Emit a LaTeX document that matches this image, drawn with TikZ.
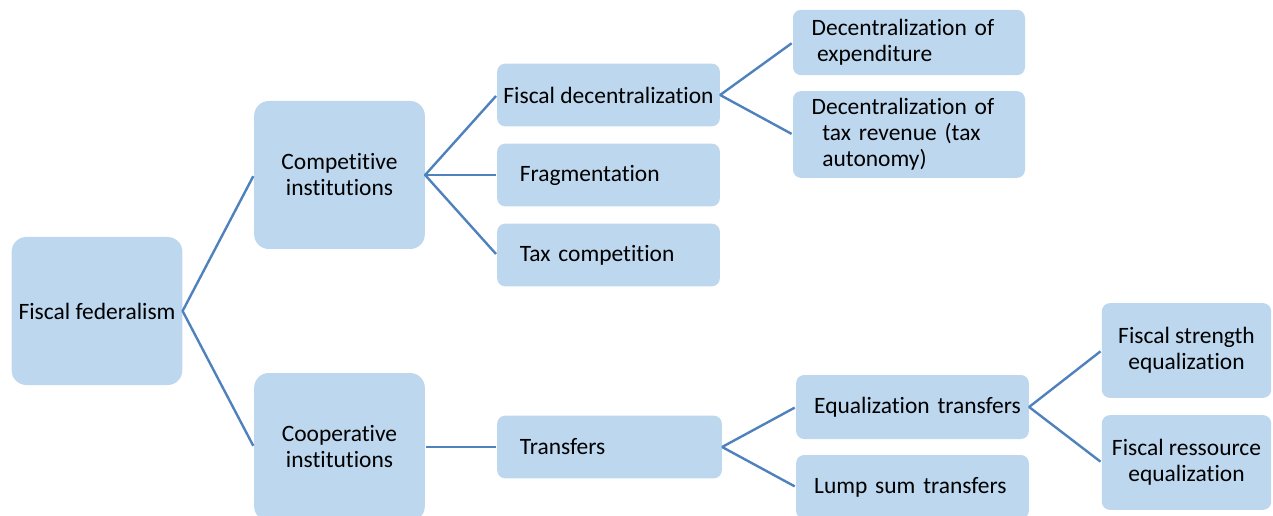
\documentclass[tikz,border=0pt]{standalone}
\usepackage{fontspec}
\setmainfont{Carlito}[Ligatures={NoCommon}]
\definecolor{boxfill}{HTML}{BDD7EE}
\definecolor{linkblue}{HTML}{4F81BD}
\tikzset{
  box/.style={fill=boxfill,rounded corners=6pt,inner sep=0pt,font=\fontsize{17.6}{19.5}\selectfont},
  lbox/.style={box,inner xsep=4pt,align=left},
  bigbox/.style={box,rounded corners=11pt,minimum width=128pt,minimum height=111pt,align=center},
  link/.style={draw=linkblue,line width=1.8pt,shorten <=1pt,shorten >=1pt}
}
\begin{document}
\begin{tikzpicture}[x=0.75pt,y=-0.75pt,line join=bevel]
	\useasboundingbox (0,0) rectangle (1273,516);
	\node[bigbox] (fed) at (97,311) {Fiscal federalism};
	\node[bigbox] (comp) at (339.5,175) {Competitive\\institutions};
	\node[bigbox] (coop) at (339.5,447) {Cooperative\\institutions};
	% competitive side
	\node[box,minimum width=167pt,minimum height=47pt] (fdec) at (608.5,95) {Fiscal decentralization};
	\node[lbox,text width=159pt,minimum height=47pt] (frag) at (608.5,175) {\hspace*{13pt}Fragmentation};
	\node[lbox,text width=159pt,minimum height=47pt] (taxc) at (608.5,255) {\hspace*{13pt}Tax competition};
	\node[lbox,text width=166pt,minimum height=49pt] (dexp) at (909,42.5) {\hspace*{10pt}Decentralization of\\\hspace*{14pt}expenditure};
	\node[lbox,text width=166pt,minimum height=65pt] (drev) at (909,134.5) {\hspace*{10pt}Decentralization of\\\hspace*{18pt}tax revenue (tax\\\hspace*{18pt}autonomy)};
	% cooperative side
	\node[lbox,text width=160.5pt,minimum height=47pt] (trans) at (609.5,447) {\hspace*{13pt}Transfers};
	\node[lbox,text width=166.5pt,minimum height=48pt] (eqt) at (912.5,407) {\hspace*{9.5pt}Equalization transfers};
	\node[lbox,text width=166.5pt,minimum height=48pt] (lump) at (912.5,487) {\hspace*{9.5pt}Lump sum transfers};
	\node[box,minimum width=127pt,minimum height=71pt,align=center] (fstr) at (1186.5,350.5) {Fiscal strength\\equalization};
	\node[box,minimum width=127pt,minimum height=71pt,align=center] (fres) at (1186.5,462.5) {Fiscal ressource\\equalization};
	% connectors
	\draw[link] (comp.west) -- (fed.east) -- (coop.west);
	\draw[link] (fdec.west) -- (comp.east) -- (taxc.west);
	\draw[link] (comp.east) -- (frag.west);
	\draw[link] (dexp.west) -- (fdec.east) -- (drev.west);
	\draw[link] (coop.east) -- (trans.west);
	\draw[link] (eqt.west) -- (trans.east) -- (lump.west);
	\draw[link] (fstr.west) -- (eqt.east) -- (fres.west);
\end{tikzpicture}
\end{document}
